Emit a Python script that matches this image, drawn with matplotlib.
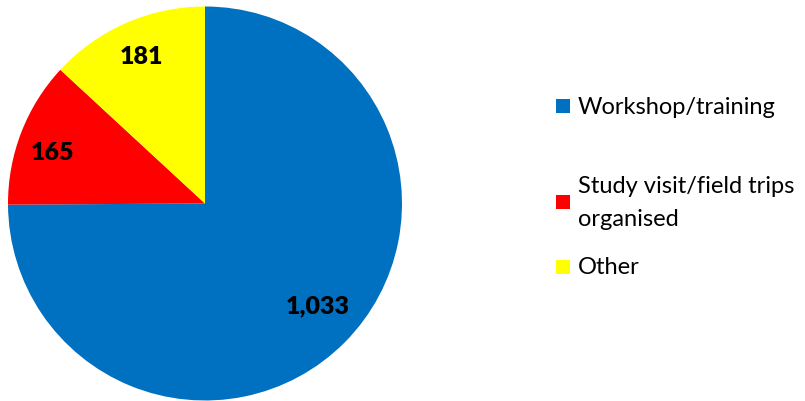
import matplotlib
matplotlib.use("Agg")
import matplotlib.pyplot as plt
from matplotlib.patches import Rectangle
import numpy as np

categories = ["Workshop/training", "Study visit/field trips\norganised", "Other"]
values = [1033, 165, 181]
value_labels = ["1,033", "165", "181"]
colors = ["#0070C0", "#FF0000", "#FFFF00"]

plt.rcParams['font.family'] = ['Lato', 'DejaVu Sans']

W, H = 805, 402
fig = plt.figure(figsize=(W / 100, H / 100), dpi=100)

cx, cy, r = 205, 197.5, 197
ax = fig.add_axes([(cx - r) / W, (cy - r) / H, 2 * r / W, 2 * r / H])
wedges, _ = ax.pie(values, colors=colors, startangle=90, counterclock=False,
                   radius=1.0, wedgeprops=dict(linewidth=0))
ax.set_xlim(-1, 1)
ax.set_ylim(-1, 1)
ax.set_aspect('auto')
ax.axis('off')

# label placement (angle offset in degrees, distance as fraction of radius)
label_place = [(2.9, 0.77), (2.4, 0.818), (-0.5, 0.816)]
for w, lab, (da, dist) in zip(wedges, value_labels, label_place):
    ang = np.deg2rad((w.theta1 + w.theta2) / 2 + da)
    ax.text(dist * np.cos(ang), dist * np.sin(ang), lab, ha='center', va='center',
            fontsize=18, fontweight='heavy', color='black')

# legend
legend_rows = [107, 203, 268]
for cat, col, yc in zip(categories, colors, legend_rows):
    fig.patches.append(Rectangle(((556) / W, 1 - (yc + 7) / H), 14 / W, 14 / H,
                                 transform=fig.transFigure, facecolor=col,
                                 edgecolor='none'))
    fig.text(578 / W, 1 - yc / H, cat, ha='left', va='center', fontsize=17,
             color='black', linespacing=1.72)

fig.savefig("out.png", dpi=100)
